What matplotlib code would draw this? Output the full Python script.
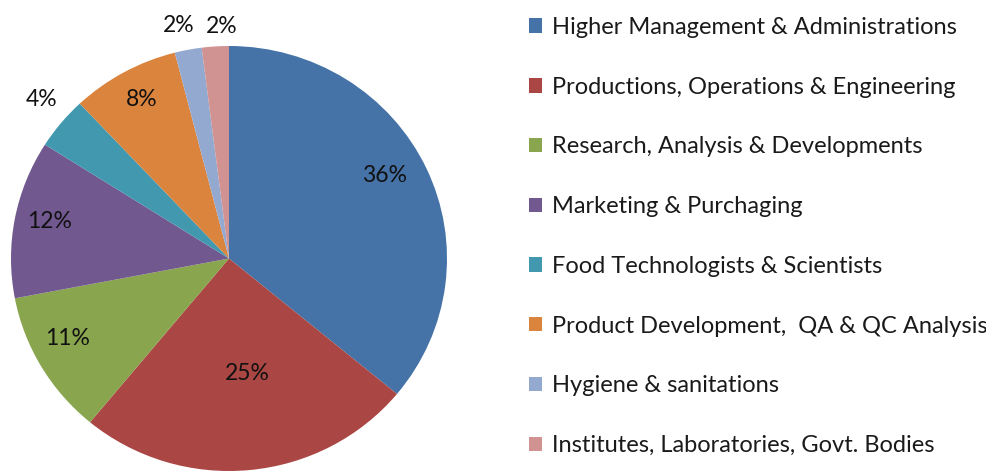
import matplotlib
matplotlib.use("Agg")
import matplotlib.pyplot as plt
import numpy as np

categories = [
    "Higher Management & Administrations",
    "Productions, Operations & Engineering",
    "Research, Analysis & Developments",
    "Marketing & Purchaging",
    "Food Technologists & Scientists",
    "Product Development,  QA & QC Analysis",
    "Hygiene & sanitations",
    "Institutes, Laboratories, Govt. Bodies",
]
values = [36, 25, 11, 12, 4, 8, 2, 2]
colors = ["#4572A7", "#AA4643", "#89A54E", "#71588F",
          "#4198AF", "#DB843D", "#93A9CF", "#D19392"]

# label placement (radius fraction, angle offset in degrees) - style only
label_r = [0.815, 0.55, 0.83, 0.84, 1.14, 0.85, 1.12, 1.09]
label_dang = [3.4, 3.6, -3.7, -1.2, -1.4, -0.8, 1.2, -1.9]

plt.rcParams['font.family'] = ['Lato', 'DejaVu Sans']

W, H = 986, 473
fig = plt.figure(figsize=(W / 100, H / 100), dpi=100)
fig.patch.set_facecolor("white")

# pie axes in pixel box
x0, x1, ytop, ybot = 11, 447, 46, 471
ax = fig.add_axes([x0 / W, (H - ybot) / H, (x1 - x0) / W, (ybot - ytop) / H])
wedges, _ = ax.pie(values, colors=colors, startangle=90, counterclock=False,
                   radius=1.0, wedgeprops=dict(linewidth=0))
ax.set_aspect("auto")
ax.set_xlim(-1, 1)
ax.set_ylim(-1, 1)

total = sum(values)
for w, v, r, da in zip(wedges, values, label_r, label_dang):
    mid = np.deg2rad((w.theta1 + w.theta2) / 2 + da)
    ax.text(r * np.cos(mid), r * np.sin(mid), f"{100 * v / total:.0f}%",
            ha="center", va="center", fontsize=16.5, color="#111111",
            clip_on=False)

handles = wedges
fs = 17.0
leg = fig.legend(handles, categories, loc="upper left",
                 bbox_to_anchor=(529 / W, 1 - 17 / H),
                 frameon=False, fontsize=fs, handlelength=0.56,
                 handleheight=0.56, handletextpad=0.40, labelspacing=1.64,
                 borderaxespad=0, borderpad=0)
for t in leg.get_texts():
    t.set_color("#1a1a1a")
for h in leg.legend_handles:
    h.set_edgecolor("none")

fig.savefig("out.png", dpi=100, facecolor="white")
